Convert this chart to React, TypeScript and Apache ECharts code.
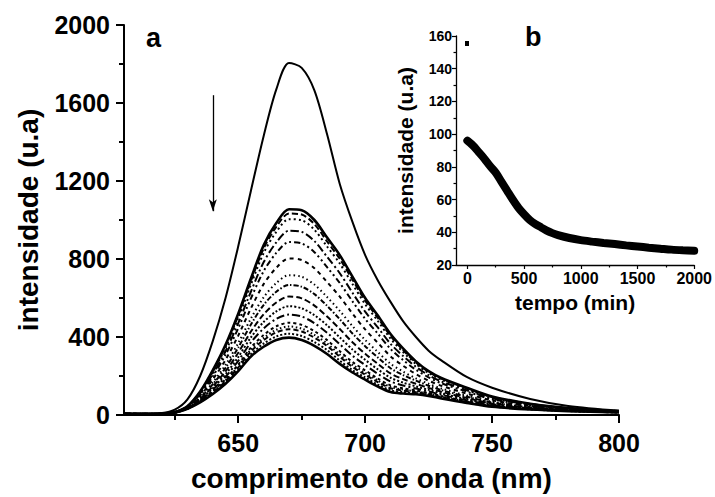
import React, { useEffect, useRef } from "react";
import * as echarts from "echarts";

// ---------- data: main panel (a) ----------
const wavelength = [605, 615, 620, 625, 630, 635, 640, 645, 650, 655, 660, 665, 670, 675, 680, 685, 690, 695, 700, 705, 710, 715, 720, 725, 730, 740, 750, 765, 780, 800];

const spectrumInitial = [8, 8, 10, 27, 80, 200, 380, 600, 865, 1150, 1430, 1670, 1805, 1780, 1665, 1440, 1185, 990, 820, 690, 580, 480, 400, 330, 280, 195, 140, 82, 46, 22];

const spectrum1062 = [8, 6, 8, 15, 45, 120, 230, 360, 520, 700, 870, 985, 1055, 1050, 1000, 910, 820, 710, 600, 510, 415, 340, 275, 225, 190, 140, 95, 58, 36, 20];
const spectrum1040 = [8, 6, 8, 15, 45, 118, 226, 353, 510, 687, 853, 965, 1033, 1028, 979, 890, 801, 694, 586, 498, 405, 332, 269, 221, 187, 137, 93, 57, 35, 20];
const spectrum1011 = [8, 6, 8, 15, 44, 116, 221, 345, 497, 669, 830, 939, 1004, 999, 950, 864, 777, 672, 568, 482, 392, 322, 262, 215, 182, 134, 91, 56, 35, 19];
const spectrum951 = [7, 6, 8, 15, 43, 111, 210, 327, 471, 633, 783, 885, 945, 939, 892, 811, 727, 627, 530, 449, 365, 302, 247, 204, 172, 127, 86, 53, 33, 19];
const spectrum892 = [7, 5, 7, 14, 42, 106, 199, 309, 445, 598, 737, 831, 887, 880, 835, 758, 677, 583, 493, 417, 339, 281, 232, 193, 163, 120, 81, 50, 32, 18];
const spectrum807 = [6, 5, 7, 14, 40, 99, 183, 283, 407, 547, 671, 755, 803, 795, 753, 682, 607, 520, 439, 370, 301, 252, 210, 176, 150, 110, 75, 47, 30, 17];
const spectrum721 = [5, 5, 7, 14, 38, 92, 167, 257, 369, 495, 603, 677, 717, 709, 669, 605, 534, 456, 385, 323, 263, 222, 188, 160, 136, 100, 68, 43, 28, 16];
const spectrum670 = [5, 4, 6, 13, 37, 88, 158, 242, 346, 464, 564, 632, 667, 658, 620, 560, 491, 418, 353, 295, 240, 205, 176, 150, 128, 94, 64, 40, 27, 16];
const spectrum610 = [5, 4, 6, 13, 36, 83, 147, 224, 319, 428, 516, 577, 608, 598, 561, 505, 441, 373, 314, 262, 213, 184, 160, 139, 119, 87, 59, 38, 25, 15];
const spectrum559 = [4, 4, 6, 13, 35, 78, 138, 209, 297, 398, 477, 531, 558, 547, 512, 460, 398, 336, 283, 234, 191, 166, 147, 129, 111, 81, 55, 35, 24, 15];
const spectrum517 = [4, 4, 6, 13, 34, 75, 130, 196, 278, 372, 444, 493, 515, 505, 471, 422, 363, 304, 256, 211, 172, 151, 136, 121, 104, 76, 52, 33, 23, 14];
const spectrum474 = [4, 3, 5, 12, 33, 71, 122, 183, 259, 346, 410, 455, 473, 462, 430, 384, 327, 272, 229, 187, 152, 137, 126, 113, 97, 71, 48, 31, 22, 14];
const spectrum454 = [3, 3, 5, 12, 33, 70, 119, 177, 251, 335, 395, 437, 454, 443, 411, 367, 310, 258, 217, 177, 144, 130, 121, 109, 94, 69, 47, 31, 21, 14];
const spectrum440 = [3, 3, 5, 12, 33, 69, 116, 173, 244, 326, 384, 424, 440, 428, 397, 354, 299, 247, 207, 169, 137, 125, 117, 106, 92, 67, 45, 30, 21, 13];
const spectrum417 = [3, 3, 5, 12, 32, 67, 112, 166, 234, 312, 366, 403, 417, 405, 374, 333, 279, 230, 193, 156, 127, 117, 111, 102, 88, 64, 44, 29, 20, 13];
const spectrum397 = [3, 3, 5, 12, 32, 65, 108, 160, 225, 300, 350, 385, 397, 385, 355, 313, 262, 218, 181, 146, 118, 110, 106, 98, 85, 62, 42, 28, 20, 13];

const decaySpectra = [spectrum1062, spectrum1040, spectrum1011, spectrum951, spectrum892, spectrum807, spectrum721, spectrum670, spectrum610, spectrum559, spectrum517, spectrum474, spectrum454, spectrum440, spectrum417, spectrum397];

const xMajorTicks = [650, 700, 750, 800];
const xMinorTicks = [625, 675, 725, 775];
const arrowFrom = [640, 1640];
const arrowTo = [640, 1045];

// ---------- data: inset (b) ----------
const tempo = [0, 50, 100, 150, 200, 250, 300, 350, 400, 450, 500, 550, 600, 650, 700, 750, 800, 900, 1000, 1100, 1200, 1300, 1400, 1500, 1600, 1700, 1800, 1900, 2000];
const intensidadeTempo = [96, 93, 89, 85, 80.5, 76.5, 71, 65.5, 60, 55, 51, 47.5, 45, 43, 41, 39.5, 38.3, 36.5, 35.2, 34.3, 33.5, 32.8, 32, 31.3, 30.6, 30, 29.4, 29, 28.7];
const insetMajorTicks = [0, 500, 1000, 1500, 2000];
const insetMinorTicks = [250, 750, 1250, 1750];

const MAIN_FONT = "'Liberation Sans', Arial, Helvetica, sans-serif";
const INSET_FONT = "'Liberation Sans', Arial, Helvetica, sans-serif";

const dashPatterns: any[] = [
  "solid",
  [6, 3],
  [2, 3],
  [8, 3, 2, 3],
  [6, 3, 2, 3, 2, 3],
  [4, 4],
  [1.5, 3],
  [5, 2, 1.5, 2],
  [6, 3],
  [2, 2],
  [8, 3, 2, 3],
  [3, 3],
  [1.5, 2.5],
  [5, 3],
  [2, 2],
  "solid",
];

const plain = (v: number) => String(v);

export default function App() {
  const ref = useRef<HTMLDivElement>(null);

  useEffect(() => {
    if (!ref.current) return;
    const chart = echarts.init(ref.current, undefined, { renderer: "svg" });

    const black = "#000";
    const mainSeries: any[] = [
      {
        type: "line",
        xAxisIndex: 0,
        yAxisIndex: 0,
        data: wavelength.map((w, i) => [w, spectrumInitial[i]]),
        smooth: 0.3,
        showSymbol: false,
        lineStyle: { color: black, width: 2 },
        z: 5,
        markLine: {
          silent: true,
          symbol: ["none", "arrow"],
          symbolSize: [6, 12],
          label: { show: false },
          lineStyle: { color: black, width: 1.3, type: "solid" },
          data: [[{ coord: arrowFrom }, { coord: arrowTo }]],
        },
      },
    ];
    decaySpectra.forEach((arr, k) => {
      mainSeries.push({
        type: "line",
        xAxisIndex: 0,
        yAxisIndex: 0,
        data: wavelength.map((w, i) => [w, arr[i]]),
        smooth: 0.3,
        showSymbol: false,
        lineStyle: {
          color: black,
          width: k === 0 || k === decaySpectra.length - 1 ? 2.6 : 2,
          type: dashPatterns[k % dashPatterns.length],
        },
      });
    });

    const option: any = {
      animation: false,
      backgroundColor: "#fff",
      textStyle: { fontFamily: MAIN_FONT, fontWeight: "bold", color: black },
      grid: [
        { left: 124, top: 25, right: 96, bottom: 81 },
        { left: 456, top: 36, right: 20, bottom: 232 },
      ],
      xAxis: [
        {
          type: "value",
          gridIndex: 0,
          position: "bottom",
          min: 605,
          max: 800,
          axisLine: { show: true, onZero: false, lineStyle: { color: black, width: 2 } },
          axisTick: { show: true, customValues: xMajorTicks, length: 8, lineStyle: { color: black, width: 2 } },
          axisLabel: { show: true, customValues: xMajorTicks, formatter: plain, fontSize: 25, fontWeight: "bold", color: black, margin: 15, fontFamily: MAIN_FONT },
          splitLine: { show: false },
          name: "comprimento de onda (nm)",
          nameLocation: "middle",
          nameGap: 49,
          nameTextStyle: { fontSize: 28, fontWeight: "bold", color: black, fontFamily: MAIN_FONT },
        },
        {
          type: "value",
          gridIndex: 0,
          position: "bottom",
          min: 605,
          max: 800,
          axisLine: { show: false, onZero: false },
          axisTick: { show: true, customValues: xMinorTicks, length: 5, lineStyle: { color: black, width: 2 } },
          axisLabel: { show: false },
          splitLine: { show: false },
        },
        {
          type: "value",
          gridIndex: 1,
          position: "bottom",
          min: -100,
          max: 2000,
          axisLine: { show: true, onZero: false, lineStyle: { color: black, width: 1.3 } },
          axisTick: { show: true, customValues: insetMajorTicks, length: 4, lineStyle: { color: black, width: 1.2 } },
          axisLabel: { show: true, customValues: insetMajorTicks, formatter: plain, fontSize: 16, fontWeight: "bold", color: black, margin: 5, fontFamily: INSET_FONT },
          splitLine: { show: false },
          name: "tempo (min)",
          nameLocation: "middle",
          nameGap: 27,
          nameTextStyle: { fontSize: 21, fontWeight: "bold", color: black, fontFamily: INSET_FONT },
        },
        {
          type: "value",
          gridIndex: 1,
          position: "bottom",
          min: -100,
          max: 2000,
          axisLine: { show: false, onZero: false },
          axisTick: { show: true, customValues: insetMinorTicks, length: 2.5, lineStyle: { color: black, width: 1.2 } },
          axisLabel: { show: false },
          splitLine: { show: false },
        },
      ],
      yAxis: [
        {
          type: "value",
          gridIndex: 0,
          min: 0,
          max: 2000,
          interval: 400,
          axisLine: { show: true, onZero: false, lineStyle: { color: black, width: 2 } },
          axisTick: { show: true, length: 8, lineStyle: { color: black, width: 2 } },
          minorTick: { show: true, splitNumber: 2, length: 5, lineStyle: { color: black, width: 2 } },
          axisLabel: { formatter: plain, fontSize: 25, fontWeight: "bold", color: black, margin: 14, fontFamily: MAIN_FONT },
          splitLine: { show: false },
          minorSplitLine: { show: false },
          name: "intensidade (u.a)",
          nameLocation: "middle",
          nameRotate: 90,
          nameGap: 82,
          nameTextStyle: { fontSize: 28, fontWeight: "bold", color: black, fontFamily: MAIN_FONT },
        },
        {
          type: "value",
          gridIndex: 1,
          min: 20,
          max: 160,
          interval: 20,
          axisLine: { show: true, onZero: false, lineStyle: { color: black, width: 1.3 } },
          axisTick: { show: true, length: 4, lineStyle: { color: black, width: 1.2 } },
          minorTick: { show: true, splitNumber: 2, length: 2.5, lineStyle: { color: black, width: 1.2 } },
          axisLabel: { formatter: plain, fontSize: 14, fontWeight: "bold", color: black, margin: 4, fontFamily: INSET_FONT },
          splitLine: { show: false },
          minorSplitLine: { show: false },
          name: "intensidade (u.a)",
          nameLocation: "middle",
          nameRotate: 90,
          nameGap: 40,
          nameTextStyle: { fontSize: 21, fontWeight: "bold", color: black, fontFamily: INSET_FONT },
        },
      ],
      series: [
        ...mainSeries,
        {
          type: "line",
          xAxisIndex: 2,
          yAxisIndex: 1,
          data: tempo.map((t, i) => [t, intensidadeTempo[i]]),
          smooth: 0.3,
          showSymbol: false,
          lineStyle: { color: black, width: 8, cap: "round" },
        },
      ],
      graphic: [
        { type: "text", left: 146, top: 24, style: { text: "a", fontSize: 27, fontWeight: "bold", fontFamily: MAIN_FONT, fill: black } },
        { type: "text", left: 525, top: 23, style: { text: "b", fontSize: 27, fontWeight: "bold", fontFamily: MAIN_FONT, fill: black } },
        { type: "rect", left: 465, top: 41, shape: { width: 4, height: 5 }, style: { fill: black } },
      ],
    };

    chart.setOption(option);
    return () => chart.dispose();
  }, []);

  return (
    <div
      ref={ref}
      style={{ position: "fixed", left: 0, top: 0, width: 715, height: 497, background: "#fff" }}
    />
  );
}
